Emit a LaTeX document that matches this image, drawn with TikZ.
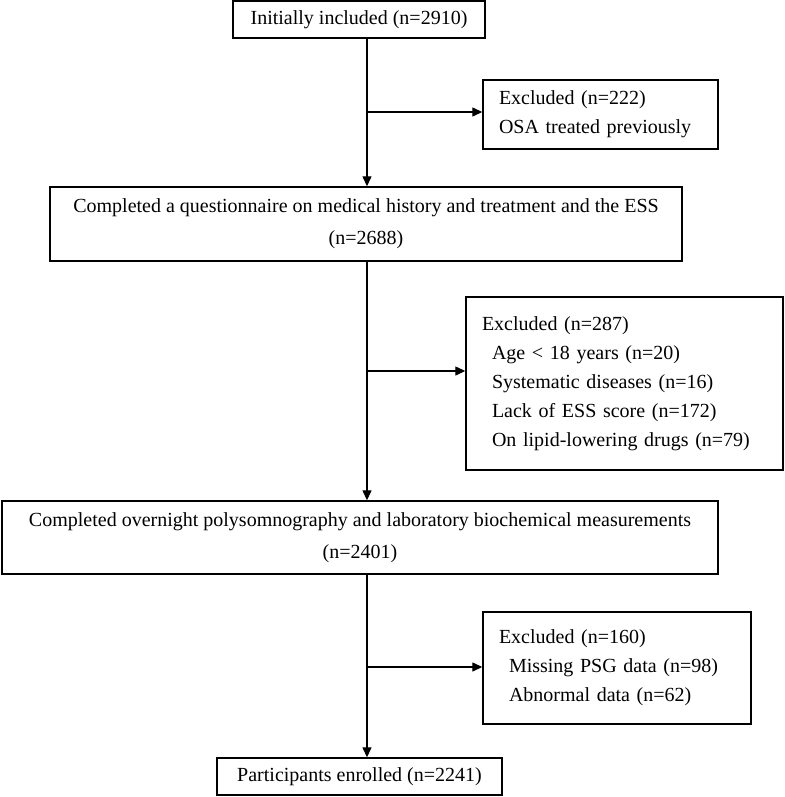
\documentclass[tikz,border=0pt]{standalone}
\usepackage{fontspec}
\setmainfont{Liberation Serif}
\usetikzlibrary{arrows.meta, positioning, calc}
\tikzset{
  stage/.style={rectangle, draw=black, line width=1.4pt, inner sep=0pt, text centered, align=center, font=\fontsize{20}{32}\selectfont},
  excluded/.style={rectangle, draw=black, line width=1.4pt, inner xsep=16pt, inner ysep=0pt, align=left, font=\fontsize{20}{29}\selectfont},
  arrow/.style={line width=1.3pt, -{Triangle[length=10pt,width=9pt]}}
}
\newcommand{\reason}{\hspace*{10pt}}
\begin{document}
\begin{tikzpicture}[x=1pt, y=-1pt]
    \useasboundingbox (0,0) rectangle (784,797);

    % trunk and branch points
    \coordinate (axis) at (367,0);
    \coordinate (branchA) at (367,112);
    \coordinate (branchB) at (367,371);
    \coordinate (branchC) at (367,667);

    \node (included) [stage, minimum width=252pt, minimum height=37pt] at (359,19.5) {Initially included (n=2910)};
    \node (excludedA) [excluded, text width=203pt, minimum height=69pt] at (600.5,114.5) {Excluded (n=222)\\OSA treated previously};
    \node (questionnaire) [stage, minimum width=632pt, minimum height=74pt] at (366,224) {Completed a questionnaire on medical history and treatment and the ESS\\(n=2688)};
    \node (excludedB) [excluded, text width=285pt, minimum height=173pt] at (624.5,383.5) {Excluded (n=287)\\\reason Age < 18 years (n=20)\\\reason Systematic diseases (n=16)\\\reason Lack of ESS score (n=172)\\\reason On lipid-lowering drugs (n=79)};
    \node (psg) [stage, minimum width=716pt, minimum height=73pt] at (360,537.5) {Completed overnight polysomnography and laboratory biochemical measurements\\(n=2401)};
    \node (excludedC) [excluded, text width=236pt, minimum height=112pt] at (617,668) {Excluded (n=160)\\\reason Missing PSG data (n=98)\\\reason Abnormal data (n=62)};
    \node (enrolled) [stage, minimum width=285pt, minimum height=37pt] at (359.5,776.5) {Participants enrolled (n=2241)};

    \draw [arrow] (included.south -| axis) -- (questionnaire.north -| axis);
    \draw [arrow] (branchA) -- (branchA -| excludedA.west);
    \draw [arrow] (questionnaire.south -| axis) -- (psg.north -| axis);
    \draw [arrow] (branchB) -- (branchB -| excludedB.west);
    \draw [arrow] (psg.south -| axis) -- (enrolled.north -| axis);
    \draw [arrow] (branchC) -- (branchC -| excludedC.west);
\end{tikzpicture}
\end{document}
